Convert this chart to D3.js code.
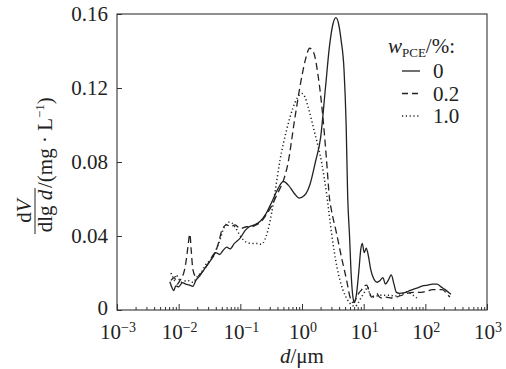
<!DOCTYPE html>
<html>
<head>
<meta charset="utf-8">
<script src="https://cdn.jsdelivr.net/npm/d3@7"></script>
<style>
  body { margin: 0; background: #fff; }
</style>
</head>
<body>
<svg id="chart" width="506" height="369"></svg>
<script>
// particle size distribution, three PCE dosages
const seriesNames = ["0", "0.2", "1.0"];

const size0 = [0.0072, 0.0078, 0.0083, 0.009, 0.010, 0.0115, 0.013, 0.015, 0.017, 0.019, 0.022, 0.026, 0.030, 0.035, 0.040, 0.046, 0.052, 0.060, 0.068, 0.080, 0.10, 0.12, 0.14, 0.17, 0.21, 0.26, 0.32, 0.40, 0.50, 0.60, 0.75, 0.90, 1.10, 1.35, 1.65, 2.0, 2.4, 2.8, 3.2, 3.55, 3.9, 4.3, 4.8, 5.2, 5.5, 5.9, 6.3, 6.7, 7.1, 7.6, 8.3, 9.0, 9.5, 10.2, 11.0, 11.8, 13.0, 14.5, 16.5, 18.5, 20.5, 22.5, 25, 28, 31, 34, 38, 44, 52, 62, 75, 90, 110, 130, 155, 180, 210, 240, 260];
const vol0 = [0.0153, 0.012, 0.0105, 0.013, 0.0125, 0.0148, 0.014, 0.0135, 0.0128, 0.016, 0.0185, 0.022, 0.025, 0.028, 0.031, 0.030, 0.032, 0.034, 0.033, 0.036, 0.039, 0.043, 0.045, 0.046, 0.048, 0.052, 0.058, 0.065, 0.0695, 0.0675, 0.063, 0.0605, 0.062, 0.068, 0.080, 0.093, 0.120, 0.143, 0.155, 0.158, 0.155, 0.146, 0.130, 0.100, 0.062, 0.040, 0.018, 0.007, 0.004, 0.008, 0.020, 0.033, 0.036, 0.031, 0.0335, 0.030, 0.022, 0.017, 0.015, 0.016, 0.0175, 0.014, 0.016, 0.019, 0.014, 0.0095, 0.009, 0.0092, 0.010, 0.011, 0.012, 0.013, 0.0135, 0.014, 0.014, 0.0125, 0.011, 0.0095, 0.0085];

const size02 = [0.0075, 0.0085, 0.0095, 0.0105, 0.0115, 0.013, 0.014, 0.0152, 0.016, 0.017, 0.019, 0.022, 0.026, 0.030, 0.035, 0.040, 0.045, 0.050, 0.060, 0.070, 0.082, 0.10, 0.127, 0.15, 0.18, 0.22, 0.27, 0.33, 0.40, 0.50, 0.59, 0.76, 0.99, 1.15, 1.33, 1.55, 1.8, 2.2, 2.5, 2.8, 3.0, 3.6, 4.4, 5.3, 6.0, 6.7, 7.5, 8.3, 9.3, 10.2, 11.2, 12.3, 13.4, 15, 16.3, 18, 19.6, 23, 28, 34, 42, 50, 65, 81, 100, 132, 160, 190, 220, 250];
const vol02 = [0.016, 0.0175, 0.014, 0.016, 0.018, 0.025, 0.033, 0.041, 0.032, 0.022, 0.018, 0.019, 0.022, 0.025, 0.029, 0.032, 0.037, 0.043, 0.046, 0.045, 0.046, 0.044, 0.045, 0.045, 0.046, 0.048, 0.052, 0.057, 0.063, 0.070, 0.079, 0.103, 0.126, 0.136, 0.1415, 0.139, 0.128, 0.103, 0.081, 0.060, 0.054, 0.042, 0.028, 0.016, 0.007, 0.004, 0.006, 0.009, 0.011, 0.013, 0.0135, 0.010, 0.007, 0.008, 0.009, 0.007, 0.0065, 0.007, 0.0065, 0.007, 0.008, 0.009, 0.0095, 0.0095, 0.010, 0.011, 0.011, 0.011, 0.009, 0.007];

const size10 = [0.0075, 0.008, 0.0085, 0.009, 0.010, 0.011, 0.012, 0.014, 0.017, 0.020, 0.024, 0.028, 0.033, 0.038, 0.042, 0.047, 0.052, 0.058, 0.065, 0.073, 0.085, 0.10, 0.12, 0.15, 0.19, 0.22, 0.25, 0.28, 0.32, 0.37, 0.44, 0.56, 0.71, 0.85, 1.0, 1.12, 1.25, 1.6, 2.1, 2.5, 3.0, 3.7, 4.6, 5.5, 6.4, 7.3, 8.2, 9.2, 10.5, 11.6, 12.5, 13.5, 16, 20, 26, 32, 38, 45, 50, 57, 63, 70, 78];
const vol10 = [0.020, 0.018, 0.016, 0.019, 0.017, 0.015, 0.0155, 0.016, 0.015, 0.018, 0.021, 0.025, 0.027, 0.030, 0.034, 0.038, 0.043, 0.046, 0.0475, 0.047, 0.044, 0.040, 0.037, 0.036, 0.036, 0.0355, 0.038, 0.043, 0.052, 0.065, 0.081, 0.097, 0.109, 0.115, 0.117, 0.115, 0.110, 0.096, 0.079, 0.063, 0.042, 0.023, 0.011, 0.0054, 0.0027, 0.002, 0.004, 0.007, 0.010, 0.0124, 0.009, 0.007, 0.0075, 0.008, 0.008, 0.0075, 0.008, 0.009, 0.0097, 0.009, 0.008, 0.007, 0.0055];

const xDecades = [-3, -2, -1, 0, 1, 2, 3];
const yTicks = [0, 0.04, 0.08, 0.12, 0.16];

const serif = "'Liberation Serif', 'Times New Roman', 'DejaVu Serif', serif";

const svg = d3.select("#chart").style("font-family", serif);
const margin = {left: 117, top: 14, right: 19, bottom: 59};
const width = 506 - margin.left - margin.right;
const height = 369 - margin.top - margin.bottom;
const g = svg.append("g").attr("transform", `translate(${margin.left},${margin.top})`);

const x = d3.scaleLog().domain([1e-3, 1e3]).range([0, width]);
const y = d3.scaleLinear().domain([0, 0.16]).range([height, 0]);

// minor ticks 2..9 in each decade
const minor = [];
xDecades.slice(0, -1).forEach(e => {
  for (let k = 2; k <= 9; k++) minor.push(k * Math.pow(10, e));
});

g.append("g")
  .attr("transform", `translate(0,${height})`)
  .call(d3.axisBottom(x).tickValues(minor).tickSize(-3).tickFormat(""))
  .call(a => a.select(".domain").remove());

g.append("g")
  .attr("transform", `translate(0,${height})`)
  .call(d3.axisBottom(x).tickValues(xDecades.map(e => Math.pow(10, e))).tickSize(-6).tickFormat(""))
  .call(a => a.select(".domain").remove());

g.append("g")
  .call(d3.axisLeft(y).tickValues(yTicks).tickSize(-5).tickPadding(9)
    .tickFormat(v => v === 0 ? "0" : d3.format(".2f")(v)))
  .call(a => a.select(".domain").remove())
  .call(a => a.attr("font-family", null))
  .call(a => a.selectAll("text").style("font-size", "21px").style("font-family", serif).attr("fill", "#222"))
  .call(a => a.selectAll(".tick").filter(v => v === 0).select("text").attr("dy", "0.2em"));

g.selectAll(".tick line").attr("stroke", "#333");

// frame
g.append("rect")
  .attr("width", width).attr("height", height)
  .attr("fill", "none").attr("stroke", "#333").attr("stroke-width", 1.1);

// decade labels 10^n
const xl = g.selectAll(".xlab").data(xDecades).enter().append("text")
  .attr("class", "xlab")
  .attr("x", d => x(Math.pow(10, d)) + 1)
  .attr("y", height + 29)
  .attr("text-anchor", "middle")
  .attr("fill", "#222")
  .style("font-size", "21px");
xl.append("tspan").text("10");
xl.append("tspan").attr("dy", -7).style("font-size", "14px")
  .text(d => d < 0 ? "\u2212" + (-d) : String(d));

// x title
const xt = g.append("text")
  .attr("x", x(1))
  .attr("y", height + 53)
  .attr("text-anchor", "middle")
  .attr("fill", "#222")
  .style("font-size", "21px");
xt.append("tspan").style("font-style", "italic").text("d");
xt.append("tspan").text("/\u03bcm");

// y title: fraction dV / dlg d, then /(mg·L-1), rotated
const yt = svg.append("g").attr("transform", "rotate(-90)").attr("fill", "#222");
const fracMid = -211;
yt.append("text").attr("x", fracMid).attr("y", 31).attr("text-anchor", "middle")
  .style("font-size", "21px")
  .call(t => {
    t.append("tspan").text("d");
    t.append("tspan").style("font-style", "italic").text("V");
  });
yt.append("line")
  .attr("x1", -234).attr("x2", -188).attr("y1", 35).attr("y2", 35)
  .attr("stroke", "#222").attr("stroke-width", 1);
yt.append("text").attr("x", fracMid).attr("y", 52).attr("text-anchor", "middle")
  .style("font-size", "21px")
  .call(t => {
    t.append("tspan").text("dlg ");
    t.append("tspan").style("font-style", "italic").text("d");
  });
yt.append("text").attr("x", -188).attr("y", 52)
  .style("font-size", "21px")
  .call(t => {
    t.append("tspan").text("/(mg \u00b7 L");
    t.append("tspan").attr("dy", -8).style("font-size", "13px").text("\u22121");
    t.append("tspan").attr("dy", 8).text(")");
  });

// curves
const line = d3.line()
  .x(p => x(p[0]))
  .y(p => y(p[1]))
  .curve(d3.curveMonotoneX);

const dashes = [null, "7,4", "1.2,2.6"];
const series = [
  d3.zip(size0, vol0),
  d3.zip(size02, vol02),
  d3.zip(size10, vol10)
];

series.forEach((pts, i) => {
  g.append("path")
    .datum(pts)
    .attr("d", line)
    .attr("fill", "none")
    .attr("stroke", "#222")
    .attr("stroke-width", i === 2 ? 1.5 : 1.3)
    .attr("stroke-dasharray", dashes[i]);
});

// legend
const lg = svg.append("g").attr("fill", "#222");
const title = lg.append("text").attr("x", 388).attr("y", 53).style("font-size", "21px");
title.append("tspan").style("font-style", "italic").text("w");
title.append("tspan").attr("dy", 4).style("font-size", "13px").text("PCE");
title.append("tspan").attr("dy", -4).text("/%:");

seriesNames.forEach((name, i) => {
  const ly = 71 + i * 22.5;
  lg.append("line")
    .attr("x1", 402).attr("x2", 420).attr("y1", ly).attr("y2", ly)
    .attr("stroke", "#222")
    .attr("stroke-width", i === 2 ? 1.5 : 1.3)
    .attr("stroke-dasharray", i === 1 ? "6,4" : dashes[i]);
  lg.append("text").attr("x", 433).attr("y", ly + 7)
    .style("font-size", "21px").text(name);
});
</script>
</body>
</html>
